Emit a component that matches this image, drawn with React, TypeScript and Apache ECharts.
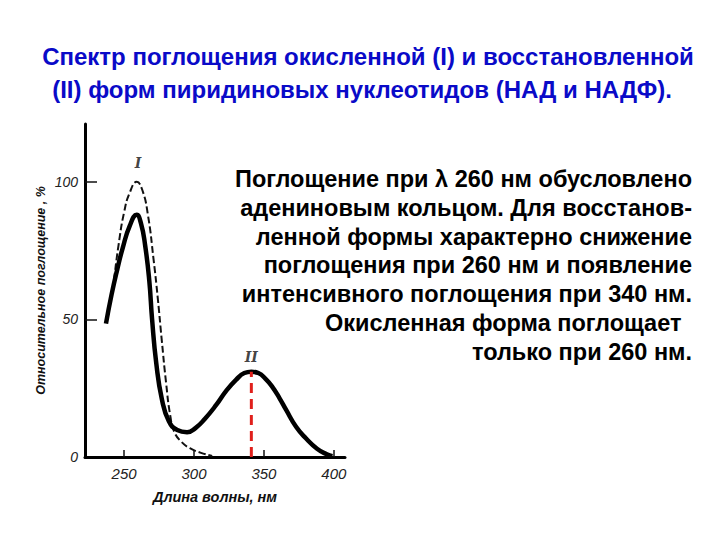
import React, { useEffect, useRef } from "react";
import * as echarts from "echarts";

const titleLines = [
  "Спектр поглощения окисленной (I) и восстановленной",
  "(II) форм пиридиновых нуклеотидов (НАД и НАДФ).",
];
const noteLines = [
  "Поглощение при λ 260 нм обусловлено",
  "адениновым кольцом. Для восстанов-",
  "ленной формы характерно снижение",
  "поглощения при 260 нм и появление",
  "интенсивного поглощения при 340 нм.",
  "Окисленная форма поглощает ",
  "только при 260 нм.",
];
const xTickValues = [250, 300, 350, 400];
const yLabelValues = [0, 50, 100];
const yTickValues = [50, 100];

// Oxidized form (I), dashed
const oxidized: [number, number][] = [
  [238, 50], [242, 62], [246, 77], [250, 89], [254, 96], [259, 100], [263, 97],
  [267, 88], [271, 72], [274, 58], [277, 42], [280, 27], [283, 15], [286, 9],
  [291, 5.5], [297, 3.2], [305, 1.5], [313, 0.4],
];
// Reduced form (II), solid
const reduced: [number, number][] = [
  [237, 48.5], [241, 59], [245, 68], [249, 76], [254, 84], [259, 88], [262, 85],
  [265, 77], [268, 64], [270, 50], [273, 34], [277, 21], [282, 13], [288, 9.8],
  [295, 9], [301, 10.5], [308, 14], [316, 19], [323, 24], [330, 28], [336, 30.5],
  [341, 31], [346, 30.5], [351, 28.5], [356, 25.5], [361, 21.5], [366, 17],
  [373, 11], [380, 6.8], [388, 3], [395, 1], [399, 0.3],
];
const markerLine: [number, number][] = [[341, 0], [341, 31]];
const curveLabels: [number, number, string][] = [
  [260, 107, "I"],
  [341, 36.5, "II"],
];

export default function App() {
  const ref = useRef<HTMLDivElement>(null);
  useEffect(() => {
    document.body.style.margin = "0";
    const chart = echarts.init(ref.current!, null, { renderer: "svg" });
    const noteTop = 179;
    const noteStep = 28.8;
    const noteRight = [692, 692, 692, 692, 692, 688, 692];
    chart.setOption({
      animation: false,
      backgroundColor: "#ffffff",
      grid: { left: 85, top: 124, width: 260, height: 333 },
      xAxis: {
        type: "value",
        min: 222,
        max: 408,
        name: "Длина волны, нм",
        nameLocation: "middle",
        nameGap: 32,
        nameTextStyle: {
          fontFamily: "Liberation Sans",
          fontStyle: "italic",
          fontWeight: "bold",
          fontSize: 14.5,
          color: "#111",
        },
        axisLine: { lineStyle: { color: "#000", width: 3 } },
        axisTick: {
          show: true,
          inside: true,
          length: 7,
          customValues: xTickValues,
          lineStyle: { color: "#111", width: 1.5 },
        },
        axisLabel: {
          customValues: xTickValues,
          margin: 9,
          fontFamily: "Liberation Sans",
          fontStyle: "italic",
          fontSize: 15,
          color: "#222",
        },
        splitLine: { show: false },
      },
      yAxis: {
        type: "value",
        min: 0,
        max: 121,
        name: "Относительное поглощение , %",
        nameLocation: "middle",
        nameGap: 38,
        nameRotate: 90,
        nameTextStyle: {
          fontFamily: "Liberation Sans",
          fontStyle: "italic",
          fontWeight: "bold",
          fontSize: 12.5,
          color: "#111",
        },
        axisLine: { show: true, lineStyle: { color: "#000", width: 3 } },
        axisTick: {
          show: true,
          inside: true,
          length: 12,
          customValues: yTickValues,
          lineStyle: { color: "#111", width: 1.5 },
        },
        axisLabel: {
          customValues: yLabelValues,
          margin: 7,
          fontFamily: "Liberation Sans",
          fontStyle: "italic",
          fontSize: 14,
          color: "#222",
        },
        splitLine: { show: false },
      },
      series: [
        {
          type: "line",
          data: oxidized,
          smooth: 0.5,
          showSymbol: false,
          lineStyle: { color: "#111", width: 2, type: [7, 3] },
          z: 2,
        },
        {
          type: "line",
          data: reduced,
          smooth: 0.5,
          showSymbol: false,
          lineStyle: { color: "#000", width: 4.5 },
          z: 3,
        },
        {
          type: "line",
          data: markerLine,
          showSymbol: false,
          lineStyle: { color: "#e0201c", width: 3, type: [10, 6] },
          z: 4,
        },
        {
          type: "scatter",
          data: curveLabels.map((d) => [d[0], d[1], d[2]]),
          symbolSize: 0,
          label: {
            show: true,
            position: "inside",
            formatter: (p: any) => p.data[2],
            fontFamily: "DejaVu Serif",
            fontStyle: "italic",
            fontWeight: "bold",
            fontSize: 14,
            color: "#111",
          },
          z: 5,
        },
      ],
      graphic: [
        ...titleLines.map((t, i) => ({
          type: "text",
          x: i === 0 ? 368 : 362,
          y: 56 + i * 33,
          style: {
            text: t,
            fontFamily: "Liberation Sans",
            fontWeight: "bold",
            fontSize: 24,
            fill: "#0a0ac8",
            textAlign: "center",
            textVerticalAlign: "middle",
          },
        })),
        ...noteLines.map((t, i) => ({
          type: "text",
          x: noteRight[i],
          y: noteTop + i * noteStep,
          style: {
            text: t,
            fontFamily: "Liberation Sans",
            fontWeight: "bold",
            fontSize: 23.5,
            fill: "#000",
            textAlign: "right",
            textVerticalAlign: "middle",
          },
        })),
      ],
    });
    return () => chart.dispose();
  }, []);
  return (
    <div
      ref={ref}
      style={{ position: "absolute", left: 0, top: 0, width: 720, height: 540 }}
    />
  );
}
